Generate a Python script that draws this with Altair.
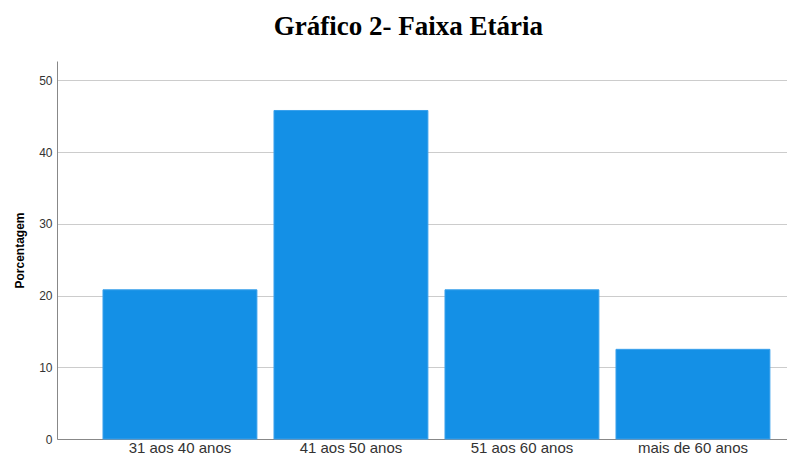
import altair as alt
import pandas as pd

categorias = ["31 aos 40 anos", "41 aos 50 anos", "51 aos 60 anos", "mais de 60 anos"]
porcentagem = [20.8, 45.8, 20.8, 12.5]
y_ticks = [0, 10, 20, 30, 40, 50]

df = pd.DataFrame({"cat": categorias, "val": porcentagem})

chart = alt.Chart(df).mark_bar(color="#1490e6", stroke="#3aa0ec", strokeWidth=1).encode(
    x=alt.X("cat:N", sort=categorias, title=None,
            scale=alt.Scale(paddingInner=0.1, paddingOuter=0.1845, align=0.729),
            axis=alt.Axis(labelAngle=0, labelFontSize=15, labelColor="#333333",
                          labelFont="Liberation Sans", domainColor="#888888",
                          ticks=False, labelPadding=1, grid=False)),
    y=alt.Y("val:Q", title="Porcentagem",
            scale=alt.Scale(domain=[0, 52.7], nice=False),
            axis=alt.Axis(values=y_ticks, ticks=False, labelFontSize=12,
                          labelColor="#333333", labelFont="Liberation Sans",
                          labelPadding=5, gridColor="#cccccc", domainColor="#888888",
                          titleFontSize=12, titleFont="Liberation Sans",
                          titleFontWeight="bold", titleColor="#000000",
                          titlePadding=12))
).properties(
    width=730, height=378,
    padding={"left": 5, "top": 5, "right": 0, "bottom": 0},
    title=alt.Title("Gráfico 2- Faixa Etária", font="Liberation Serif", fontSize=27,
                    fontWeight="bold", anchor="middle", frame="bounds",
                    color="#000000", offset=20, dx=8)
).configure_view(stroke=None)

chart.save("out.html", embed_options={"renderer": "svg", "actions": False})
